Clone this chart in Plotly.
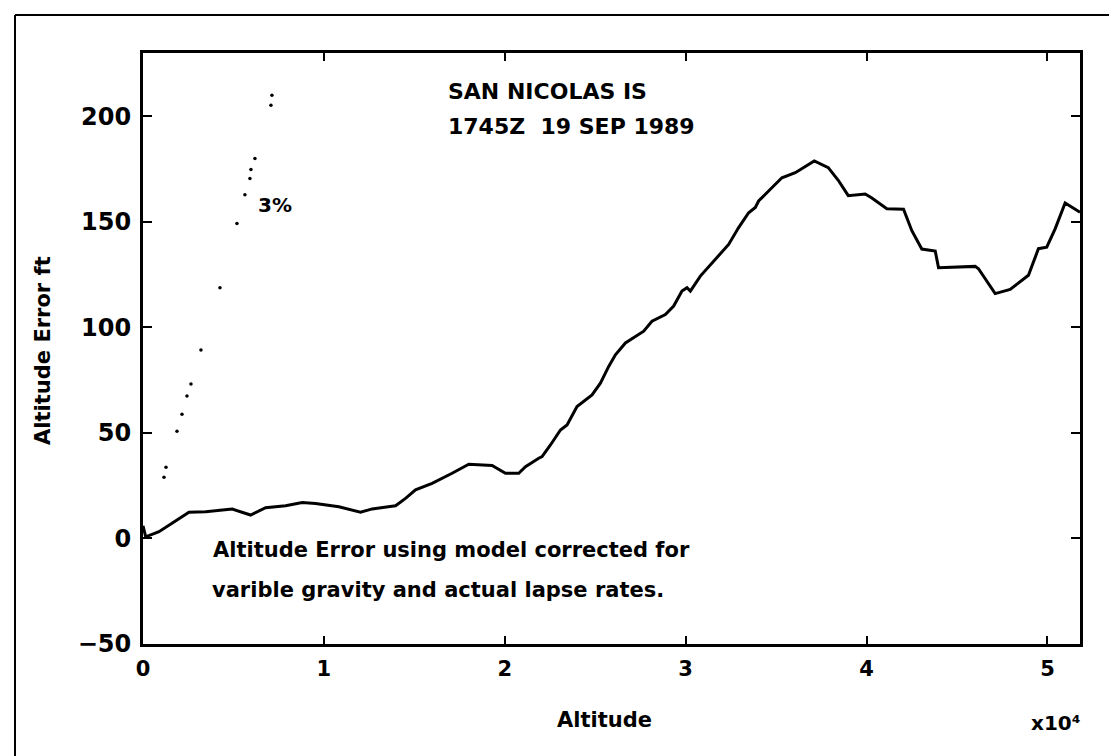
import plotly.graph_objects as go

# --- data (altitude in ft, error in ft) ---
altitude_ft = [0, 149, 884, 1619, 2541, 3464, 4934, 5950, 6779, 7884, 8801, 9541,
               10829, 12028, 12669, 13961, 14514, 15066, 15983, 17088, 18011, 19298,
               20039, 20773, 21144, 21878, 22061, 22525, 23077, 23442, 23994, 24823,
               25287, 25746, 26116, 26669, 27127, 27680, 28138, 28878, 29337, 29796,
               30072, 30260, 30812, 31453, 32006, 32376, 32928, 33481, 33851, 34033,
               34586, 35320, 36061, 37110, 37884, 38436, 38989, 39928, 40293, 41122,
               42044, 42503, 43055, 43796, 43978, 46006, 46188, 47110, 47939, 48950,
               49503, 49961, 50425, 50978, 51800]
error_ft = [6, 0.8, 3.2, 7.1, 12.4, 12.7, 13.9, 11.1, 14.6, 15.5, 17.0, 16.6,
            15.0, 12.4, 14.0, 15.5, 19.0, 23.0, 26.1, 30.9, 35.2, 34.6,
            30.9, 30.9, 34.0, 38.0, 38.8, 44.3, 51.4, 53.8, 62.5, 68.0,
            73.6, 81.5, 87.0, 92.6, 95.0, 98.2, 102.9, 106.1, 110.1, 117.2,
            118.8, 117.2, 124.3, 130.6, 136.2, 139.3, 147.3, 154.3, 156.8, 159.9,
            164.6, 170.9, 173.3, 178.9, 175.7, 169.7, 162.4, 163.2, 161.3, 156.2,
            156.0, 145.8, 137.1, 136.2, 128.3, 128.9, 127.8, 116.0, 118.0, 124.7,
            137.3, 138.0, 146.7, 158.9, 154.6]

# dotted 3% reference
pct_alt = [1160, 1271, 1878, 2155, 2431, 2652, 3204, 4254, 5193, 5635, 5912,
           5967, 6188, 7072, 7127]
pct_err = [29.0, 33.7, 50.8, 58.9, 67.5, 73.2, 89.3, 118.8, 149.2, 162.9, 170.5,
           174.8, 180.0, 205.2, 210.0]

x_ticks = [0, 10000, 20000, 30000, 40000, 50000]
x_tick_text = ['0', '1', '2', '3', '4', '5']
y_ticks = [-50, 0, 50, 100, 150, 200]

FONT = "DejaVu Sans"

fig = go.Figure()

fig.add_trace(go.Scatter(
    x=altitude_ft, y=error_ft, mode='lines',
    line=dict(color='black', width=3),
    showlegend=False
))

fig.add_trace(go.Scatter(
    x=pct_alt, y=pct_err, mode='markers',
    marker=dict(color='black', size=3.5),
    showlegend=False
))

fig.update_layout(
    width=1117, height=756,
    margin=dict(l=135, r=45, t=45, b=120),
    paper_bgcolor='white', plot_bgcolor='white',
    font=dict(family=FONT, color='black'),
    showlegend=False,
)

fig.update_xaxes(
    range=[0, 51800],
    tickvals=x_ticks, ticktext=x_tick_text,
    ticks='inside', ticklen=8, tickwidth=2, tickcolor='black',
    showline=True, linecolor='black', linewidth=3, mirror='ticks',
    showgrid=False, zeroline=False,
    tickfont=dict(size=21, family=FONT, color='black', weight='bold'),
    ticklabelstandoff=4,
)

fig.update_yaxes(
    range=[-50, 230],
    tickvals=y_ticks,
    ticks='inside', ticklen=9, tickwidth=2, tickcolor='black',
    showline=True, linecolor='black', linewidth=3, mirror='ticks',
    showgrid=False, zeroline=False,
    tickfont=dict(size=24, family=FONT, color='black', weight='bold'),
    ticklabelstandoff=4,
)

# text on the chart
notes = [
    dict(text="SAN NICOLAS IS", x=0.3234, y=0.9357, size=22, anchor='left'),
    dict(text="1745Z  19 SEP 1989", x=0.3234, y=0.8748, size=22, anchor='left'),
    dict(text="3%", x=0.1206, y=0.7428, size=20, anchor='left'),
    dict(text="Altitude Error using model corrected for", x=0.0726, y=0.159, size=21, anchor='left'),
    dict(text="varible gravity and actual lapse rates.", x=0.0715, y=0.0914, size=21, anchor='left'),
    dict(text="Altitude", x=0.493, y=-0.1286, size=21, anchor='center'),
    dict(text="x10⁴", x=0.974, y=-0.1337, size=20, anchor='center'),
]
for n in notes:
    fig.add_annotation(
        text=n['text'], x=n['x'], y=n['y'], xref='paper', yref='paper',
        xanchor=n['anchor'], yanchor='middle', showarrow=False,
        font=dict(size=n['size'], family=FONT, color='black', weight='bold')
    )

# y axis title
fig.add_annotation(
    text="Altitude Error ft", x=-0.1067, y=0.496, xref='paper', yref='paper',
    xanchor='center', yanchor='middle', textangle=-90, showarrow=False,
    font=dict(size=21, family=FONT, color='black', weight='bold')
)

# page border of the scan (left and top edges)
fig.add_shape(type='line', xref='paper', yref='paper',
              x0=-0.1366, x1=-0.1366, y0=1.0643, y1=-0.196,
              line=dict(color='black', width=2))
fig.add_shape(type='line', xref='paper', yref='paper',
              x0=-0.1366, x1=1.0437, y0=1.0643, y1=1.0643,
              line=dict(color='black', width=2))

fig.write_html("out.html")
